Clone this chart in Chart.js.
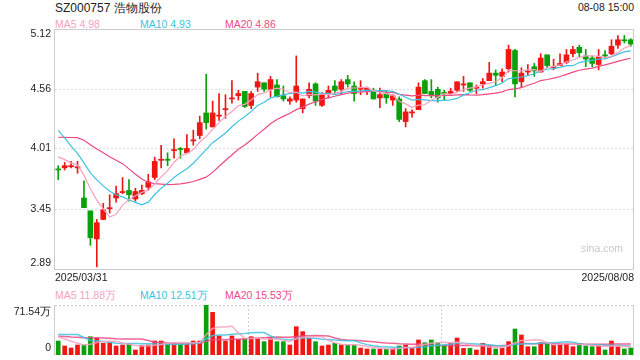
<!DOCTYPE html>
<html><head><meta charset="utf-8">
<script src="https://cdn.jsdelivr.net/npm/chart.js@4.4.1/dist/chart.umd.min.js"></script>
<style>
body{margin:0;width:640px;height:360px;background:#fff;overflow:hidden;position:relative;font-family:Arial,"Liberation Sans",sans-serif;}
.t{position:absolute;white-space:nowrap;font-size:10.5px;line-height:10.5px;color:#222;}
canvas{position:absolute;left:0;}
</style></head><body>
<div class="t" style="left:55px;top:2px;font-size:12px;line-height:12px;">SZ000757 浩物股份</div>
<div class="t" style="right:6px;top:2.2px;">08-08 15:00</div>
<div class="t" id="l1" style="left:55px;top:19.2px;color:#f7a1bf;">MA5 4.98</div>
<div class="t" id="l2" style="left:140px;top:19.2px;color:#3cc3e2;">MA10 4.93</div>
<div class="t" id="l3" style="left:225px;top:19.2px;color:#ec4a84;">MA20 4.86</div>
<div class="t" style="left:55px;top:289.9px;color:#f7a1bf;">MA5 11.88万</div>
<div class="t" style="left:140px;top:289.9px;color:#3cc3e2;">MA10 12.51万</div>
<div class="t" style="left:225px;top:289.9px;color:#ec4a84;">MA20 15.53万</div>
<canvas id="c1" width="640" height="285" style="top:0"></canvas>
<canvas id="c2" width="640" height="75" style="top:285px"></canvas>
<script>
const dates = ("03/31 04/01 04/02 04/03 04/07 04/08 04/09 04/10 04/11 04/14 04/15 04/16 04/17 04/18 04/21 04/22 04/23 04/24 04/25 04/28 04/29 04/30 " +
 "05/06 05/07 05/08 05/09 05/12 05/13 05/14 05/15 05/16 05/19 05/20 05/21 05/22 05/23 05/26 05/27 05/28 05/29 05/30 " +
 "06/03 06/04 06/05 06/06 06/09 06/10 06/11 06/12 06/13 06/16 06/17 06/18 06/19 06/20 06/23 06/24 06/25 06/26 06/27 06/30 " +
 "07/01 07/02 07/03 07/04 07/07 07/08 07/09 07/10 07/11 07/14 07/15 07/16 07/17 07/18 07/21 07/22 07/23 07/24 07/25 07/28 07/29 07/30 07/31 " +
 "08/01 08/04 08/05 08/06 08/07 08/08").split(" ").map(d => "2025/" + d);

const opens = [3.82,3.83,3.84,3.83,3.55,3.43,3.17,3.35,3.45,3.55,
 3.60,3.62,3.54,3.59,3.65,3.74,3.90,3.91,3.99,4.01,
 3.97,4.08,4.13,4.34,4.21,4.31,4.37,4.47,4.50,4.54,
 4.41,4.58,4.62,4.56,4.60,4.50,4.45,4.46,4.38,4.50,
 4.61,4.41,4.52,4.59,4.56,4.65,4.59,4.56,4.55,4.54,
 4.48,4.52,4.46,4.47,4.26,4.34,4.37,4.64,4.54,4.56,
 4.53,4.52,4.55,4.60,4.62,4.57,4.61,4.64,4.71,4.68,
 4.75,4.92,4.63,4.72,4.77,4.72,4.88,4.76,4.78,4.81,
 4.89,4.95,4.87,4.85,4.79,4.88,4.89,4.97,5.02,5.02];
const highs = [3.85,3.88,3.89,3.89,3.71,3.43,3.35,3.50,3.58,3.66,
 3.74,3.72,3.64,3.67,3.77,3.93,4.04,3.97,4.10,4.02,
 4.14,4.18,4.31,4.70,4.45,4.52,4.51,4.64,4.55,4.54,
 4.54,4.71,4.62,4.68,4.65,4.59,4.49,4.87,4.47,4.62,
 4.62,4.53,4.59,4.64,4.65,4.69,4.63,4.64,4.58,4.57,
 4.57,4.55,4.51,4.49,4.38,4.37,4.62,4.65,4.65,4.58,
 4.55,4.57,4.63,4.68,4.62,4.60,4.66,4.81,4.74,4.75,
 4.97,4.93,4.76,4.79,4.80,4.89,4.88,4.84,4.89,4.93,
 4.96,4.97,4.93,4.87,4.93,4.92,5.02,5.06,5.06,5.03];
const lows = [3.72,3.81,3.83,3.78,3.46,3.11,2.91,3.35,3.41,3.51,
 3.59,3.52,3.52,3.58,3.62,3.72,3.83,3.85,3.92,3.92,
 3.97,4.04,4.10,4.19,4.21,4.27,4.29,4.43,4.46,4.39,
 4.38,4.54,4.54,4.49,4.49,4.45,4.42,4.44,4.34,4.48,
 4.41,4.40,4.48,4.52,4.51,4.58,4.45,4.51,4.51,4.47,
 4.39,4.43,4.41,4.26,4.21,4.30,4.37,4.52,4.48,4.44,
 4.46,4.50,4.54,4.54,4.54,4.52,4.57,4.64,4.60,4.63,
 4.72,4.49,4.58,4.69,4.68,4.72,4.76,4.74,4.78,4.80,
 4.86,4.86,4.77,4.77,4.74,4.85,4.88,4.94,4.99,4.96];
const closes = [3.81,3.85,3.85,3.84,3.46,3.18,3.32,3.44,3.46,3.59,
 3.61,3.58,3.61,3.62,3.70,3.89,3.91,3.90,4.00,4.00,
 4.01,4.09,4.25,4.25,4.34,4.32,4.38,4.48,4.52,4.40,
 4.52,4.63,4.56,4.65,4.49,4.47,4.47,4.59,4.47,4.56,
 4.45,4.51,4.55,4.55,4.63,4.61,4.52,4.57,4.57,4.47,
 4.51,4.48,4.50,4.28,4.35,4.35,4.58,4.52,4.50,4.48,
 4.52,4.54,4.63,4.61,4.55,4.58,4.63,4.71,4.69,4.72,
 4.93,4.61,4.71,4.73,4.73,4.85,4.78,4.77,4.80,4.88,
 4.93,4.90,4.84,4.80,4.86,4.87,4.96,5.02,5.01,4.98];
// volume, 万
const volumes = [20.0,12.9,10.0,14.3,14.3,26.2,24.3,16.7,17.6,12.9,
 14.3,15.7,7.2,13.4,14.3,20.0,20.0,16.7,16.7,16.7,
 16.7,20.0,20.0,71.54,61.0,27.2,20.0,27.2,22.4,22.4,
 26.2,23.8,19.1,25.3,19.1,19.1,14.3,40.5,33.4,23.8,
 19.1,12.9,14.3,16.7,14.3,14.3,14.3,10.0,8.6,8.6,
 8.6,8.6,8.6,12.9,14.3,10.0,21.5,17.6,21.5,17.6,
 13.4,16.7,24.3,9.5,9.5,7.2,16.7,11.9,8.6,9.5,
 19.1,37.2,28.6,11.9,11.9,17.6,17.6,14.3,15.7,16.7,
 11.9,16.7,12.9,11.9,12.9,7.2,20.0,11.9,8.6,10.0];
// estimated sessions before the visible window (only used for the moving averages)
const prevCloses = [3.86,3.88,3.87,3.95,4.02,4.10,4.15,4.20,4.22,4.25,4.55,4.62,4.50,4.35,4.10,3.98,4.00,3.95,3.92];
const prevVolumes = [22,26,24,28,25,23,27,24,26,22,12,11,14,57,69,28,27,28,27];
const priceTicks = [5.12,4.56,4.01,3.45,2.89];
const volTicks = [71.54,0];

const UP = '#f01612', DOWN = '#0aa00c';
const C5 = '#f7a1bf', C10 = '#3cc3e2', C20 = '#ec4a84';

function movingAvg(src, prev, n){
  const all = prev.concat(src), off = prev.length;
  return src.map((_, i) => { let s = 0; for (let k = 0; k < n; k++) s += all[off + i - k]; return s / n; });
}
const colors = closes.map((c, i) => c >= opens[i] ? UP : DOWN);
const bodies = opens.map((o, i) => [o, closes[i]]);
const wicks = lows.map((l, i) => [l, highs[i]]);

const mainDecor = {
  id: 'mainDecor',
  beforeDatasetsDraw(chart){
    const {ctx, chartArea: a, scales: {y}} = chart;
    ctx.save();
    ctx.strokeStyle = '#dcdcdc'; ctx.lineWidth = 1; ctx.setLineDash([2,2]);
    priceTicks.slice(1, -1).forEach(v => {
      const py = Math.round(y.getPixelForValue(v)) + 0.5;
      ctx.beginPath(); ctx.moveTo(a.left, py); ctx.lineTo(a.right, py); ctx.stroke();
    });
    ctx.restore();
  },
  afterDraw(chart){
    const {ctx, chartArea: a, scales: {y}} = chart;
    ctx.save();
    ctx.strokeStyle = '#cccccc'; ctx.lineWidth = 1; ctx.setLineDash([]);
    ctx.strokeRect(a.left - 0.5, a.top + 0.5, a.right - a.left, a.bottom - a.top);
    ctx.font = '10.5px Arial, "Liberation Sans", sans-serif';
    ctx.fillStyle = '#222'; ctx.textAlign = 'right'; ctx.textBaseline = 'middle';
    priceTicks.forEach((v, i) => {
      let py = y.getPixelForValue(v);
      if (i === 0) py = a.top + 5.5;
      if (i === priceTicks.length - 1) py = a.bottom - 5.5;
      ctx.fillText(v.toFixed(2), a.left - 4, py);
    });
    ctx.textAlign = 'left';
    ctx.fillText(dates[0], a.left, a.bottom + 9.5);
    ctx.textAlign = 'right';
    ctx.fillText(dates[dates.length - 1], a.right, a.bottom + 9.5);
    ctx.fillStyle = '#c8c8c8';
    ctx.fillText('sina.com', a.right - 11, a.bottom - 20);
    ctx.restore();
  }
};

new Chart(document.getElementById('c1'), {
  type: 'bar',
  data: {
    labels: dates,
    datasets: [
      {type: 'line', data: movingAvg(closes, prevCloses, 5), borderColor: C5, borderWidth: 1.2, pointRadius: 0, order: 0, tension: 0},
      {type: 'line', data: movingAvg(closes, prevCloses, 10), borderColor: C10, borderWidth: 1.2, pointRadius: 0, order: 0, tension: 0},
      {type: 'line', data: movingAvg(closes, prevCloses, 20), borderColor: C20, borderWidth: 1.2, pointRadius: 0, order: 0, tension: 0},
      {data: bodies, backgroundColor: colors, barThickness: 5, minBarLength: 1, grouped: false, borderWidth: 0, order: 1},
      {data: wicks, backgroundColor: colors, barThickness: 1, grouped: false, borderWidth: 0, order: 2}
    ]
  },
  options: {
    responsive: false, animation: false, events: [],
    layout: {padding: {left: 55, right: 6, top: 29, bottom: 16}},
    plugins: {legend: {display: false}, tooltip: {enabled: false}},
    scales: {
      x: {display: false, offset: true},
      y: {display: false, min: priceTicks[priceTicks.length - 1], max: priceTicks[0]}
    }
  },
  plugins: [mainDecor]
});

const volDecor = {
  id: 'volDecor',
  beforeDatasetsDraw(chart){
    const {ctx, chartArea: a} = chart;
    ctx.save();
    ctx.lineWidth = 1;
    ctx.strokeStyle = '#cccccc'; ctx.setLineDash([]);
    ctx.beginPath();
    ctx.moveTo(a.left - 0.5, a.top); ctx.lineTo(a.left - 0.5, a.bottom);
    ctx.moveTo(a.right - 0.5, a.top); ctx.lineTo(a.right - 0.5, a.bottom);
    ctx.stroke();
    ctx.setLineDash([2,2]); ctx.strokeStyle = '#cfcfcf';
    ctx.beginPath();
    ctx.moveTo(a.left, a.top + 0.5); ctx.lineTo(a.right, a.top + 0.5);
    ctx.moveTo(a.left, a.bottom - 0.5); ctx.lineTo(a.right, a.bottom - 0.5);
    for (let k = 1; k < 3; k++) {
      const px = Math.round(a.left + (a.right - a.left) * k / 3) + 0.5;
      ctx.moveTo(px, a.top); ctx.lineTo(px, a.bottom);
    }
    ctx.stroke();
    ctx.restore();
  },
  afterDraw(chart){
    const {ctx, chartArea: a} = chart;
    ctx.save();
    ctx.font = '10.5px Arial, "Liberation Sans", sans-serif';
    ctx.fillStyle = '#222'; ctx.textAlign = 'right'; ctx.textBaseline = 'middle';
    ctx.fillText(volTicks[0].toFixed(2) + '万', a.left - 4, a.top + 6.7);
    ctx.fillText(String(volTicks[1]), a.left - 4, a.bottom - 6.7);
    ctx.restore();
  }
};

new Chart(document.getElementById('c2'), {
  type: 'bar',
  data: {
    labels: dates,
    datasets: [
      {type: 'line', data: movingAvg(volumes, prevVolumes, 5), borderColor: 'rgba(247,161,191,0.85)', borderWidth: 1.5, pointRadius: 0, order: 0},
      {type: 'line', data: movingAvg(volumes, prevVolumes, 10), borderColor: 'rgba(60,195,226,0.85)', borderWidth: 1.5, pointRadius: 0, order: 0},
      {type: 'line', data: movingAvg(volumes, prevVolumes, 20), borderColor: 'rgba(236,74,132,0.85)', borderWidth: 1.5, pointRadius: 0, order: 0},
      {data: volumes, backgroundColor: colors, barThickness: 4, borderWidth: 0, order: 1}
    ]
  },
  options: {
    responsive: false, animation: false, events: [],
    layout: {padding: {left: 55, right: 6, top: 20, bottom: 5}},
    plugins: {legend: {display: false}, tooltip: {enabled: false}},
    scales: {
      x: {display: false, offset: true},
      y: {display: false, min: volTicks[1], max: volTicks[0]}
    }
  },
  plugins: [volDecor]
});
</script>
</body></html>
